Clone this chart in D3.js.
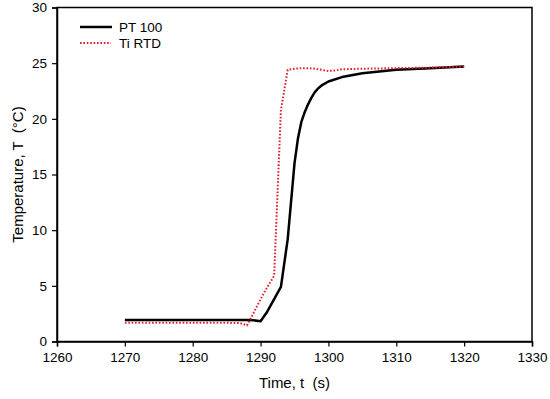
<!DOCTYPE html>
<html>
<head>
<meta charset="utf-8">
<script src="https://cdn.jsdelivr.net/npm/d3@7"></script>
<style>
  body { margin: 0; background: #fff; }
  text { font-family: "Liberation Sans", Arial, sans-serif; fill: #000; white-space: pre; }
</style>
</head>
<body>
<div id="chart"></div>
<script>
// PT 100 reference sensor
const ptTime = [1270, 1275, 1280, 1285, 1288, 1289, 1290, 1291, 1292, 1293, 1294, 1295, 1295.5, 1296, 1296.5, 1297, 1297.5, 1298, 1298.5, 1299, 1300, 1302, 1305, 1310, 1315, 1320];
const ptTemp = [1.92, 1.92, 1.92, 1.92, 1.92, 1.9, 1.82, 2.7, 3.8, 4.9, 9.2, 16.0, 18.2, 19.7, 20.6, 21.3, 21.9, 22.4, 22.75, 23.0, 23.35, 23.75, 24.1, 24.4, 24.55, 24.7];

// Ti RTD sensor
const tiTime = [1270, 1275, 1280, 1285, 1287, 1288, 1289, 1290, 1291, 1292, 1293, 1294, 1295, 1296, 1297, 1298, 1299, 1300, 1301, 1302, 1305, 1310, 1315, 1320];
const tiTemp = [1.68, 1.68, 1.68, 1.68, 1.65, 1.45, 2.6, 3.8, 4.9, 5.9, 20.8, 24.4, 24.5, 24.55, 24.55, 24.5, 24.4, 24.3, 24.35, 24.45, 24.5, 24.55, 24.6, 24.7];

const xTicks = [1260, 1270, 1280, 1290, 1300, 1310, 1320, 1330];
const yTicks = [0, 5, 10, 15, 20, 25, 30];

const seriesNames = ["PT 100", "Ti RTD"];

const W = 550, H = 399;
const margin = { left: 57, right: 18, top: 7.5, bottom: 57.5 };

const svg = d3.select("#chart").append("svg")
    .attr("width", W)
    .attr("height", H);

const x = d3.scaleLinear().domain([1260, 1330]).range([margin.left, W - margin.right]);
const y = d3.scaleLinear().domain([0, 30]).range([H - margin.bottom, margin.top]);

// frame
svg.append("rect")
    .attr("x", x(1260)).attr("y", y(30))
    .attr("width", x(1330) - x(1260))
    .attr("height", y(0) - y(30))
    .attr("fill", "none")
    .attr("stroke", "#000")
    .attr("stroke-width", 1.5);

const xAxis = svg.append("g")
    .attr("transform", `translate(0,${y(0)})`)
    .call(d3.axisBottom(x).tickValues(xTicks).tickSize(5).tickPadding(6).tickFormat(d3.format("d")));
const yAxis = svg.append("g")
    .attr("transform", `translate(${x(1260)},0)`)
    .call(d3.axisLeft(y).tickValues(yTicks).tickSize(5).tickPadding(5));

[xAxis, yAxis].forEach(g => {
    g.select(".domain").attr("stroke-width", 1.5);
    g.selectAll(".tick line").attr("stroke-width", 1.2);
    g.selectAll(".tick text").attr("font-size", 13.5).attr("font-family", "Liberation Sans, Arial, sans-serif");
});

// axis titles
svg.append("text")
    .attr("x", (x(1260) + x(1330)) / 2)
    .attr("y", 388)
    .attr("text-anchor", "middle")
    .attr("font-size", 15)
    .text("Time, t  (s)");

svg.append("text")
    .attr("transform", `translate(23,${(y(0) + y(30)) / 2}) rotate(-90)`)
    .attr("text-anchor", "middle")
    .attr("font-size", 15)
    .text("Temperature, T  (°C)");

const line = d3.line().x(d => x(d[0])).y(d => y(d[1]));

svg.append("path")
    .datum(ptTime.map((t, i) => [t, ptTemp[i]]))
    .attr("d", line)
    .attr("fill", "none")
    .attr("stroke", "#000")
    .attr("stroke-width", 2.5)
    .attr("stroke-linejoin", "round");

svg.append("path")
    .datum(tiTime.map((t, i) => [t, tiTemp[i]]))
    .attr("d", line)
    .attr("fill", "none")
    .attr("stroke", "#e0202a")
    .attr("stroke-width", 2)
    .attr("stroke-dasharray", "1.6,1.8");

// legend
const legend = svg.append("g");
legend.append("line")
    .attr("x1", 80).attr("x2", 112).attr("y1", 27).attr("y2", 27)
    .attr("stroke", "#000").attr("stroke-width", 2.5);
legend.append("text")
    .attr("x", 119).attr("y", 32)
    .attr("font-size", 13.5)
    .text(seriesNames[0]);
legend.append("line")
    .attr("x1", 80).attr("x2", 111).attr("y1", 43).attr("y2", 43)
    .attr("stroke", "#e0202a").attr("stroke-width", 2)
    .attr("stroke-dasharray", "1.6,1.8");
legend.append("text")
    .attr("x", 119).attr("y", 48)
    .attr("font-size", 13.5)
    .text(seriesNames[1]);
</script>
</body>
</html>
